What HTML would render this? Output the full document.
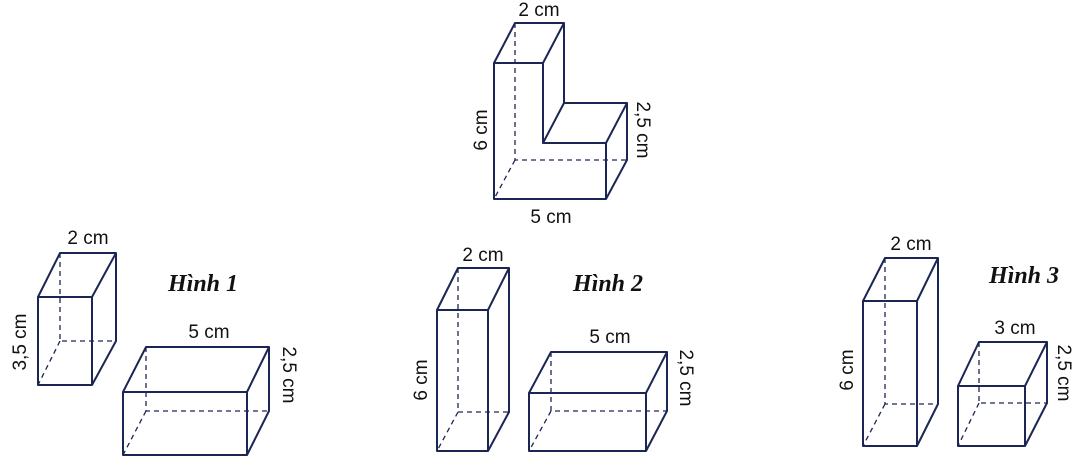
<!DOCTYPE html>
<html><head><meta charset="utf-8"><style>
html,body{margin:0;padding:0;background:#fff;width:1090px;height:465px;overflow:hidden}
svg text{font-family:"Liberation Sans",sans-serif;font-size:19px;fill:#111}
svg text.h{font-family:"Liberation Serif",serif;font-style:italic;font-weight:bold;font-size:24px}
</style></head><body>
<svg width="1090" height="465" viewBox="0 0 1090 465" xmlns="http://www.w3.org/2000/svg">
<g fill="none" stroke="#1c2654" stroke-width="2" stroke-linejoin="round">
<polygon points="494,63 543,63 543,143 606,143 606,199 494,199"/>
<polyline points="494,63 515,23 564,23 543,63"/>
<polyline points="564,23 564,103 543,143"/>
<polyline points="564,103 627,103 606,143"/>
<polyline points="627,103 627,160 606,199"/>
<g stroke-dasharray="5,4" stroke-width="1.3"><polyline points="515,23 515,160 627,160"/><line x1="515" y1="160" x2="494" y2="199"/></g>
<rect x="38" y="297" width="54" height="88"/>
<polyline points="38,297 60,253 116,253 92,297"/><polyline points="116,253 116,341 92,385"/>
<g stroke-dasharray="5,4" stroke-width="1.3"><polyline points="60,253 60,341 116,341"/><line x1="60" y1="341" x2="38" y2="385"/></g>
<rect x="123" y="392" width="124" height="63"/>
<polyline points="123,392 146,347 269,347 247,392"/><polyline points="269,347 269,411 247,455"/>
<g stroke-dasharray="5,4" stroke-width="1.3"><polyline points="146,347 146,411 269,411"/><line x1="146" y1="411" x2="123" y2="455"/></g>
<rect x="437" y="310" width="51" height="141"/>
<polyline points="437,310 458,268 509,268 488,310"/><polyline points="509,268 509,412 488,451"/>
<g stroke-dasharray="5,4" stroke-width="1.3"><polyline points="458,268 458,412 509,412"/><line x1="458" y1="412" x2="437" y2="451"/></g>
<rect x="529" y="393" width="117" height="58"/>
<polyline points="529,393 551,352 667,352 646,393"/><polyline points="667,352 667,411 646,451"/>
<g stroke-dasharray="5,4" stroke-width="1.3"><polyline points="551,352 551,411 667,411"/><line x1="551" y1="411" x2="529" y2="451"/></g>
<rect x="863" y="301" width="54" height="145"/>
<polyline points="863,301 885,258 938,258 917,301"/><polyline points="938,258 938,404 917,446"/>
<g stroke-dasharray="5,4" stroke-width="1.3"><polyline points="885,258 885,404 938,404"/><line x1="885" y1="404" x2="863" y2="446"/></g>
<rect x="958" y="386" width="67" height="60"/>
<polyline points="958,386 979,342 1047,342 1025,386"/><polyline points="1047,342 1047,403 1025,446"/>
<g stroke-dasharray="5,4" stroke-width="1.3"><polyline points="979,342 979,403 1047,403"/><line x1="979" y1="403" x2="958" y2="446"/></g>
</g>
<g text-anchor="middle">
<text x="539" y="16">2 cm</text>
<text x="551" y="223">5 cm</text>
<text transform="translate(487,130) rotate(-90)">6 cm</text>
<text transform="translate(637,130) rotate(90)">2,5 cm</text>
<text x="88" y="244">2 cm</text>
<text transform="translate(26,342) rotate(-90)">3,5 cm</text>
<text x="209" y="338">5 cm</text>
<text transform="translate(283,375) rotate(90)">2,5 cm</text>
<text class="h" x="203" y="291">Hình 1</text>
<text x="483" y="261">2 cm</text>
<text transform="translate(427,380) rotate(-90)">6 cm</text>
<text x="610" y="343">5 cm</text>
<text transform="translate(680,378) rotate(90)">2,5 cm</text>
<text class="h" x="608" y="291">Hình 2</text>
<text x="911" y="250">2 cm</text>
<text transform="translate(853,370) rotate(-90)">6 cm</text>
<text x="1015" y="334">3 cm</text>
<text transform="translate(1058,373) rotate(90)">2,5 cm</text>
<text class="h" x="1024" y="283">Hình 3</text>
</g>
</svg>
</body></html>
